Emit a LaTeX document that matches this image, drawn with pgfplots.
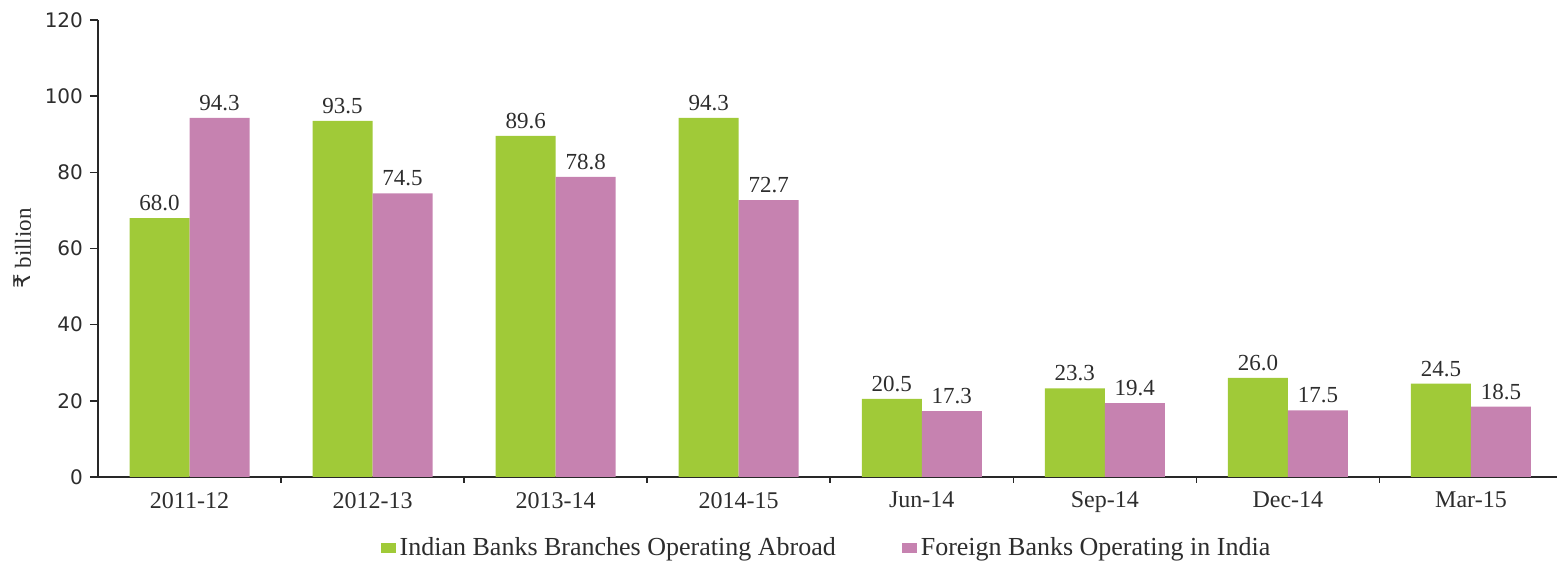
\documentclass[border=0pt]{standalone}
\usepackage{pgfplots}
\pgfplotsset{compat=1.18}
\usepackage{fontspec}
\setmainfont{Liberation Serif}
\newfontfamily\tickfont{DejaVu Sans}
\newfontfamily\rupee{DejaVu Sans}
\definecolor{cgreen}{RGB}{160,202,56}
\definecolor{cpink}{RGB}{198,130,176}
\definecolor{axgray}{RGB}{40,40,40}
\definecolor{txtgray}{RGB}{45,45,45}
\begin{document}
\begin{tikzpicture}
\path[use as bounding box] (-49pt,-42pt) rectangle (729.5pt,238.5pt);
\begin{axis}[
  at={(0pt,0pt)}, anchor=south west,
  width=729.5pt, height=228.5pt, scale only axis,
  xmin=-0.5, xmax=7.47, ymin=0, ymax=120,
  ybar=0pt, bar width=30pt,
  axis x line*=bottom, axis y line*=left,
  axis line style={axgray, line width=1pt, -},
  tick align=outside,
  /pgf/number format/assume math mode=true,
  xtick={0,...,7},
  xticklabels={2011-12,2012-13,2013-14,2014-15,Jun-14,Sep-14,Dec-14,Mar-15},
  major x tick style={draw=none},
  minor xtick={0.5,1.5,...,6.5},
  minor tick length=3pt,
  major tick length=4pt,
  every tick/.style={axgray, line width=0.8pt},
  ytick={0,20,...,120},
  y tick label style={font=\tickfont\fontsize{10}{11}\selectfont, text=txtgray},
  x tick label style={font=\fontsize{12}{13}\selectfont, text=txtgray},
  ylabel={{\rupee ₹} billion},
  ylabel style={font=\fontsize{11.5}{13}\selectfont, text=txtgray},
  nodes near coords,
  every node near coord/.append style={font=\fontsize{11.5}{13}\selectfont, text=txtgray},
  nodes near coords style={/pgf/number format/.cd, fixed, precision=1, fixed zerofill, assume math mode=true},
  legend style={at={(0.5,-0.155)}, anchor=center, legend columns=2, draw=none,
    font=\fontsize{13}{14}\selectfont, text=txtgray,
    /tikz/every even column/.append style={column sep=31pt}},
  legend image code/.code={\draw[#1,draw=none] (0pt,-2.5pt) rectangle (7.5pt,2.5pt);},
]
\addplot[fill=cgreen, draw=none] coordinates {(0,68.0) (1,93.5) (2,89.6) (3,94.3) (4,20.5) (5,23.3) (6,26.0) (7,24.5)};
\addplot[fill=cpink, draw=none] coordinates {(0,94.3) (1,74.5) (2,78.8) (3,72.7) (4,17.3) (5,19.4) (6,17.5) (7,18.5)};
\legend{Indian Banks Branches Operating Abroad, Foreign Banks Operating in India}
\end{axis}
\end{tikzpicture}
\end{document}
